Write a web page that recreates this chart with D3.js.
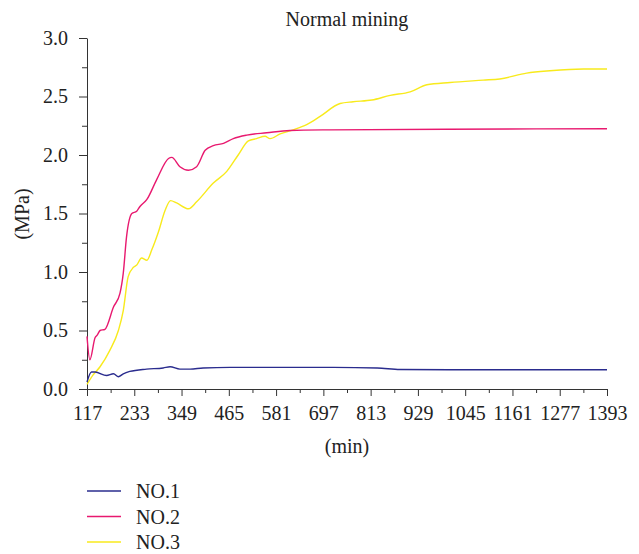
<!DOCTYPE html>
<html>
<head>
<meta charset="utf-8">
<script src="https://cdn.jsdelivr.net/npm/d3@7"></script>
<style>
  body { margin: 0; background: #fff; }
  svg { font-family: "Liberation Serif", "DejaVu Serif", serif; }
  .axis path, .axis line { stroke: #333; }
  .axis text { font-size: 20px; fill: #222; font-family: "Liberation Serif", serif; }
</style>
</head>
<body>
<svg id="chart"></svg>
<script>
// Tick labels of the x axis (min) and y axis (MPa)
const xTicks = [117, 233, 349, 465, 581, 697, 813, 929, 1045, 1161, 1277, 1393];
const yTicks = [0, 0.5, 1.0, 1.5, 2.0, 2.5, 3.0];

// NO.1 readings
const no1Time = [117, 128, 137, 165, 182, 194, 206, 222, 263, 304, 321, 345, 370, 402, 468, 721, 829, 885, 1008, 1393];
const no1Val  = [0.06, 0.145, 0.145, 0.115, 0.13, 0.105, 0.13, 0.15, 0.17, 0.18, 0.19, 0.17, 0.17, 0.18, 0.185, 0.185, 0.18, 0.167, 0.164, 0.164];

// NO.2 readings
const no2Time = [117, 124, 137, 142, 149, 161, 182, 198, 206, 214, 227, 239, 247, 264, 288, 317, 325, 345, 366, 386, 407, 427, 452, 476, 509, 558, 615, 713, 1000, 1393];
const no2Val  = [0.45, 0.25, 0.44, 0.46, 0.50, 0.51, 0.70, 0.82, 0.99, 1.30, 1.50, 1.52, 1.56, 1.62, 1.79, 1.97, 1.98, 1.90, 1.87, 1.90, 2.04, 2.08, 2.10, 2.14, 2.17, 2.19, 2.21, 2.215, 2.22, 2.225];

// NO.3 readings
const no3Time = [117, 132, 149, 173, 194, 206, 218, 231, 239, 251, 264, 276, 292, 309, 322, 337, 366, 386, 427, 460, 488, 513, 533, 554, 566, 591, 623, 656, 689, 738, 770, 816, 861, 910, 951, 1008, 1089, 1130, 1196, 1253, 1335, 1393];
const no3Val  = [0.04, 0.12, 0.19, 0.33, 0.50, 0.67, 0.96, 1.04, 1.06, 1.12, 1.10, 1.19, 1.34, 1.53, 1.61, 1.59, 1.54, 1.60, 1.76, 1.86, 2.00, 2.12, 2.14, 2.16, 2.14, 2.18, 2.215, 2.26, 2.33, 2.44, 2.455, 2.47, 2.51, 2.54, 2.60, 2.62, 2.64, 2.65, 2.70, 2.72, 2.735, 2.735];

const seriesNames = ["NO.1", "NO.2", "NO.3"];
const seriesColors = ["#2a2c8e", "#e8196f", "#f8ea1c"];

const series = [
  no1Time.map((t, i) => ({t: t, v: no1Val[i]})),
  no2Time.map((t, i) => ({t: t, v: no2Val[i]})),
  no3Time.map((t, i) => ({t: t, v: no3Val[i]}))
];

// Dimensions and margins
const W = 639, H = 554;
const margin = {top: 38, right: 32, bottom: 165, left: 87},
    width = W - margin.left - margin.right,
    height = H - margin.top - margin.bottom;

const svg = d3.select("#chart").attr("width", W).attr("height", H);
const g = svg.append("g").attr("transform", "translate(" + margin.left + "," + margin.top + ")");

// Scales
const x = d3.scaleLinear().domain([117, 1393]).range([0, width]);
const y = d3.scaleLinear().domain([0, 3]).range([height, 0]);

// Minor ticks (halfway between labels)
const xMinor = d3.range(117 + 58, 1393, 116);
const yMinor = d3.range(0.25, 3, 0.5);

g.append("g").attr("class", "axis")
    .attr("transform", "translate(0," + height + ")")
    .call(d3.axisBottom(x).tickValues(xMinor).tickSize(4).tickFormat(""))
    .select(".domain").remove();
g.append("g").attr("class", "axis")
    .call(d3.axisLeft(y).tickValues(yMinor).tickSize(5).tickFormat(""))
    .select(".domain").remove();

// Add the x Axis
g.append("g").attr("class", "axis")
    .attr("transform", "translate(0," + height + ")")
    .call(d3.axisBottom(x).tickValues(xTicks).tickSize(7).tickSizeOuter(0).tickPadding(10).tickFormat(d3.format("d")));

// Add the y Axis
g.append("g").attr("class", "axis")
    .call(d3.axisLeft(y).tickValues(yTicks).tickSize(8).tickSizeOuter(0).tickPadding(11).tickFormat(d3.format(".1f")));

// Lines
const line = d3.line()
    .x(function(d) { return x(d.t); })
    .y(function(d) { return y(d.v); })
    .curve(d3.curveMonotoneX);

[2, 1, 0].forEach(function(i) {
  g.append("path")
      .datum(series[i])
      .attr("fill", "none")
      .attr("stroke", seriesColors[i])
      .attr("stroke-width", 1.4)
      .attr("d", line);
});

// Title and axis labels
svg.append("text").attr("x", margin.left + width / 2).attr("y", 26)
    .attr("text-anchor", "middle").attr("font-size", 20).attr("fill", "#222")
    .text("Normal mining");
svg.append("text").attr("x", margin.left + width / 2).attr("y", 453)
    .attr("text-anchor", "middle").attr("font-size", 20).attr("fill", "#222")
    .text("(min)");
svg.append("text").attr("transform", "translate(29," + 214 + ") rotate(-90)")
    .attr("text-anchor", "middle").attr("font-size", 20).attr("fill", "#222")
    .text("(MPa)");

// Legend
const legend = svg.append("g").attr("transform", "translate(87,491)");
seriesNames.forEach(function(name, i) {
  const row = legend.append("g").attr("transform", "translate(0," + (i * 25.5) + ")");
  row.append("line").attr("x1", 0).attr("x2", 34).attr("y1", 0).attr("y2", 0)
      .attr("stroke", seriesColors[i]).attr("stroke-width", 1.4);
  row.append("text").attr("x", 49).attr("y", 7)
      .attr("font-size", 20).attr("fill", "#222").text(name);
});
</script>
</body>
</html>
